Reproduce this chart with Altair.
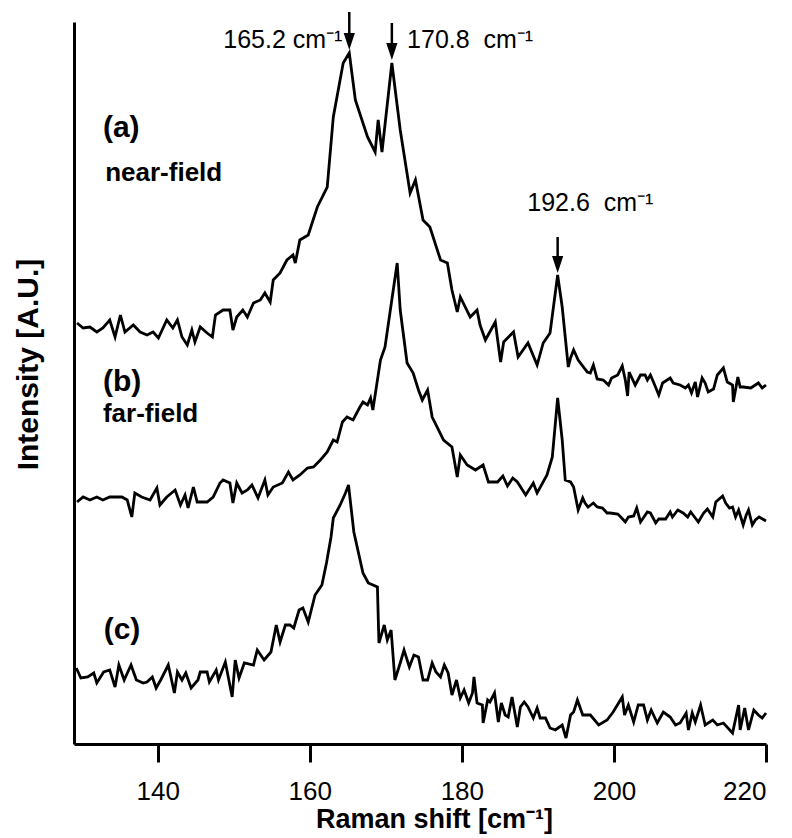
import altair as alt
import pandas as pd

# ---- spectrum (a) near-field ----
xa = [129.4,130.2,131.1,132.0,132.8,133.7,134.4,135.1,135.7,136.8,137.7,138.6,139.4,140.1,141.2,142.0,142.6,143.2,143.9,144.5,
      144.9,145.6,146.5,147.2,147.6,148.6,149.5,149.9,150.4,151.2,151.8,152.6,153.5,154.1,154.8,155.2,156.1,157.0,157.8,158.1,
      158.7,159.8,161.0,162.3,163.1,164.4,165.2,166.0,167.6,168.6,169.0,169.5,170.8,171.9,173.2,173.9,174.9,175.8,177.2,178.1,
      178.7,179.4,179.8,181.1,182.0,182.4,183.1,184.4,185.1,185.5,186.8,187.4,188.7,189.9,190.7,191.6,192.6,193.2,194.0,
      194.3,194.7,195.3,196.5,196.9,197.3,197.8,198.6,199.3,199.7,200.5,201.1,201.5,201.8,202.0,202.8,203.5,204.1,204.4,204.8,
      205.2,205.9,206.4,207.0,207.4,207.8,208.7,209.4,209.8,210.2,210.7,211.0,211.6,212.0,212.4,213.1,213.6,214.4,214.9,215.6,
      215.7,216.3,216.6,217.0,218.0,219.0,219.5,220.0]
ya = [421,416,417,412,416,424,407,429,412,419,412,409,412,406,424,416,424,407,399,414,
      402,417,411,407,429,434,434,414,427,434,427,441,444,451,442,464,471,484,489,481,
      504,509,537,557,627,681,691,644,607,592,624,592,681,614,551,564,524,517,484,481,
      454,432,447,427,434,419,404,422,382,402,412,387,401,379,401,411,469,437,377,
      386,394,384,372,371,379,365,364,359,366,369,378,364,348,372,359,369,369,364,369,
      362,349,361,364,366,361,359,356,359,351,362,347,366,361,352,355,369,376,362,359,
      342,367,357,357,356,361,356,359]

# ---- spectrum (b) far-field ----
xb = [129.4,130.2,131.1,132.0,132.8,133.7,135.3,136.0,136.6,137.0,137.9,139.0,139.9,140.3,141.2,142.3,143.0,143.6,144.0,144.7,
      145.2,146.5,147.3,148.2,148.6,149.5,149.9,150.4,151.1,151.8,152.4,153.2,154.1,154.5,155.2,156.4,157.2,157.8,158.7,159.7,
      160.5,161.4,162.3,163.1,163.6,164.3,164.9,165.7,166.6,167.0,167.6,168.0,168.3,169.3,169.9,170.6,171.5,171.9,172.8,173.6,
      174.3,174.8,175.5,176.1,177.6,178.7,179.4,179.8,180.7,181.8,182.8,183.5,184.7,185.4,186.0,186.7,187.3,188.4,189.4,189.9,
      191.2,191.9,192.6,193.2,193.6,
      194.3,194.7,195.3,195.9,196.2,196.6,197.3,197.8,198.5,199.1,199.5,200.5,200.9,201.5,201.9,202.6,203.0,203.5,204.4,204.8,
      205.5,205.9,206.8,207.4,207.7,208.4,209.1,209.7,210.1,210.7,211.1,211.8,212.3,213.0,213.4,214.3,214.7,215.2,215.6,216.0,
      216.4,217.0,217.4,217.7,218.2,218.6,219.1,220.0]
yb = [242,247,244,247,244,247,247,244,227,251,247,244,256,239,247,254,239,249,236,257,
      242,242,247,261,264,261,241,261,251,254,259,246,264,249,257,261,272,264,269,276,
      277,284,292,304,302,322,327,324,337,342,339,346,334,384,397,434,481,434,381,371,
      354,344,354,327,304,297,267,289,279,274,279,262,262,268,258,266,262,249,261,251,
      269,287,346,304,264,
      262,257,234,246,241,237,241,237,236,231,231,230,227,222,227,228,236,222,232,231,
      221,225,225,232,227,234,231,227,232,226,222,231,235,227,242,248,241,236,237,227,
      234,219,229,234,219,224,227,223]

# ---- spectrum (c) ----
xc = [129.3,129.9,130.8,131.6,132.0,132.9,133.7,134.4,134.9,135.6,136.5,137.2,138.1,138.6,139.3,139.8,140.4,141.4,142.2,142.6,
      143.2,143.7,144.4,145.3,145.6,146.5,146.8,147.7,148.0,148.9,149.8,150.2,150.7,151.4,152.6,153.1,154.0,154.9,155.6,156.1,
      156.8,157.4,157.9,158.6,159.1,159.8,160.7,161.6,162.2,162.8,163.1,164.0,164.7,165.1,165.8,167.0,167.7,168.9,169.1,169.8,
      170.2,170.7,171.2,171.9,172.4,173.1,173.7,174.3,174.9,175.5,176.1,176.6,
      177.2,177.7,178.2,178.7,179.3,179.8,180.3,180.9,181.4,181.6,182.0,182.7,182.8,183.4,183.7,184.3,184.8,185.2,185.7,186.1,
      186.6,187.3,187.7,188.2,188.7,189.4,189.9,190.3,191.0,191.6,192.3,193.2,193.7,194.3,194.7,195.2,195.9,196.9,198.0,199.1,
      199.9,201.1,201.4,201.9,202.6,203.2,203.9,204.4,204.9,205.7,206.5,207.4,208.1,208.7,209.5,209.8,210.3,210.7,211.4,212.0,
      213.0,213.6,214.4,215.6,216.4,216.6,217.2,217.7,218.4,219.0,219.5,220.0]
yc = [76,66,67,71,61,72,74,57,79,64,79,64,61,62,67,56,64,79,51,72,
      64,71,56,64,72,72,62,74,64,82,47,84,66,81,79,94,84,92,119,102,
      119,119,116,134,136,122,149,159,181,207,226,239,251,259,212,171,161,157,101,119,
      104,114,64,81,94,77,89,87,64,64,81,72,
      67,79,71,49,64,46,54,41,51,67,41,39,21,44,42,51,22,41,29,27,
      47,17,37,42,37,26,36,26,26,16,14,19,6,29,32,44,29,29,19,24,
      32,47,29,39,22,39,39,24,34,21,32,27,19,21,31,14,31,22,39,19,
      24,19,21,11,39,14,36,14,34,29,26,31]

# ---- axis ticks ----
x_ticks = [140, 160, 180, 200, 220]

# ---- peak arrows ----
arrow_x = [165.2, 170.8, 192.6]
arrow_top = [732, 721, 507]
arrow_tip = [694, 684, 471]

# ---- annotation texts ----
NB = "\u00a0"
peak_text = ["165.2 cm⁻¹", "170.8" + NB + NB + "cm⁻¹", "192.6" + NB + NB + "cm⁻¹"]
peak_text_x = [164.3, 172.8, 188.6]
peak_text_y = [704, 704, 541]
peak_text_align = ["right", "left", "left"]

tag_text = ["(a)", "(b)", "(c)"]
tag_x = [132.8, 132.8, 132.9]
tag_y = [616, 362, 114]

field_text = ["near-field", "far-field"]
field_x = [133.1, 132.8]
field_y = [571, 330]

FONT = "Liberation Sans"
HEAD = 17

rows = []
for name, xs, ys in (("a", xa, ya), ("b", xb, yb), ("c", xc, yc)):
    rows += [{"series": name, "shift": x, "intensity": y} for x, y in zip(xs, ys)]
df = pd.DataFrame(rows)

x_scale = alt.Scale(domain=[129, 220], nice=False, zero=False)
y_scale = alt.Scale(domain=[0, 722], nice=False, zero=False)

lines = alt.Chart(df).mark_line(color="black", strokeWidth=2.8, strokeJoin="miter").encode(
    x=alt.X("shift:Q", scale=x_scale,
            axis=alt.Axis(values=x_ticks, title="Raman shift [cm⁻¹]", grid=False,
                          domainWidth=3, domainColor="black", tickColor="black",
                          tickWidth=3, tickSize=18, labelFont=FONT, labelFontSize=26,
                          labelColor="black", labelPadding=16, titleFont=FONT,
                          titleFontSize=27, titleFontWeight="bold", titleColor="black",
                          titleX=360, titleY=83, titleAlign="center",
                          titleBaseline="alphabetic")),
    y=alt.Y("intensity:Q", scale=y_scale,
            axis=alt.Axis(ticks=False, labels=False, grid=False, title="Intensity [A.U.]",
                          domainWidth=3, domainColor="black", titleFont=FONT,
                          titleFontSize=30, titleFontWeight="bold", titleColor="black",
                          titleX=-46, titleY=342, titleAngle=-90, titleAlign="center",
                          titleBaseline="middle")),
    detail="series:N",
)

arr_df = pd.DataFrame({"x": arrow_x, "top": arrow_top, "tip": arrow_tip})
arr_df["base"] = arr_df["tip"] + HEAD - 2

rules = alt.Chart(arr_df).mark_rule(color="black", strokeWidth=2.5).encode(
    x=alt.X("x:Q", scale=x_scale),
    y=alt.Y("top:Q", scale=y_scale),
    y2="base:Q",
)
heads = alt.Chart(arr_df).mark_point(
    shape="M-0.33,-1L0.33,-1L0,0Z", filled=True, size=(2 * HEAD) ** 2,
    color="black", opacity=1, strokeWidth=0,
).encode(
    x=alt.X("x:Q", scale=x_scale),
    y=alt.Y("tip:Q", scale=y_scale),
)

pk_df = pd.DataFrame({"x": peak_text_x, "y": peak_text_y, "t": peak_text, "al": peak_text_align})
pk_right = alt.Chart(pk_df[pk_df.al == "right"]).mark_text(
    align="right", baseline="middle", font=FONT, fontSize=25, color="black").encode(
    x=alt.X("x:Q", scale=x_scale), y=alt.Y("y:Q", scale=y_scale), text="t:N")
pk_left = alt.Chart(pk_df[pk_df.al == "left"]).mark_text(
    align="left", baseline="middle", font=FONT, fontSize=25, color="black").encode(
    x=alt.X("x:Q", scale=x_scale), y=alt.Y("y:Q", scale=y_scale), text="t:N")

tag_df = pd.DataFrame({"x": tag_x, "y": tag_y, "t": tag_text})
tags = alt.Chart(tag_df).mark_text(
    align="left", baseline="middle", font=FONT, fontSize=30, fontWeight="bold", color="black").encode(
    x=alt.X("x:Q", scale=x_scale), y=alt.Y("y:Q", scale=y_scale), text="t:N")

fld_df = pd.DataFrame({"x": field_x, "y": field_y, "t": field_text})
fields = alt.Chart(fld_df).mark_text(
    align="left", baseline="middle", font=FONT, fontSize=26, fontWeight="bold", color="black").encode(
    x=alt.X("x:Q", scale=x_scale), y=alt.Y("y:Q", scale=y_scale), text="t:N")

chart = alt.layer(lines, rules, heads, pk_right, pk_left, tags, fields).properties(
    width=692, height=722,
    autosize=alt.AutoSizeParams(type="none"),
    padding={"left": 66, "top": 14, "right": 18, "bottom": 94},
    background="white",
).configure_view(stroke=None)

chart.save("out.html", embed_options={"renderer": "svg", "actions": False})
